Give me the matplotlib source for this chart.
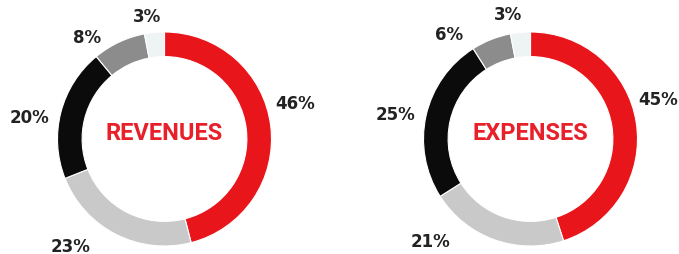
import matplotlib.pyplot as plt

# data
revenue_shares = [46, 23, 20, 8, 3]
expense_shares = [45, 21, 25, 6, 3]
slice_colors = ['#e8161b', '#c9c9c9', '#0b0b0b', '#8c8c8c', '#eef3f3']

# label positions relative to donut centre (units of outer radius)
revenue_label_pos = [(1.22, 0.34), (-0.88, -1.00), (-1.26, 0.21), (-0.72, 0.95), (-0.16, 1.15)]
expense_label_pos = [(1.19, 0.37), (-0.93, -0.95), (-1.26, 0.23), (-0.76, 0.98), (-0.21, 1.17)]

W, H = 679, 255
fig = plt.figure(figsize=(W / 100, H / 100), dpi=100)
fig.patch.set_facecolor('white')

R = 107  # outer radius in px


def donut(cx, cy, shares, label_pos, title):
    ax = fig.add_axes([(cx - R) / W, (H - cy - R) / H, 2 * R / W, 2 * R / H])
    ax.pie(shares, colors=slice_colors, startangle=90, counterclock=False,
           radius=1.0, wedgeprops=dict(width=0.23, edgecolor='white', linewidth=0.8))
    ax.set_xlim(-1, 1)
    ax.set_ylim(-1, 1)
    ax.set_aspect('auto')
    ax.axis('off')
    for val, (lx, ly) in zip(shares, label_pos):
        ax.text(lx, ly, f'{val}%', ha='center', va='center', fontsize=12,
                fontweight='bold', family='DejaVu Sans', color='#222222', clip_on=False)
    ax.text(0, 0.065, title, ha='center', va='center', fontsize=17,
            fontweight='bold', family='Roboto', color='#e8202a')


donut(164.5, 140, revenue_shares, revenue_label_pos, 'REVENUES')
donut(530.5, 140, expense_shares, expense_label_pos, 'EXPENSES')

fig.savefig('out.png', dpi=100, facecolor='white')
